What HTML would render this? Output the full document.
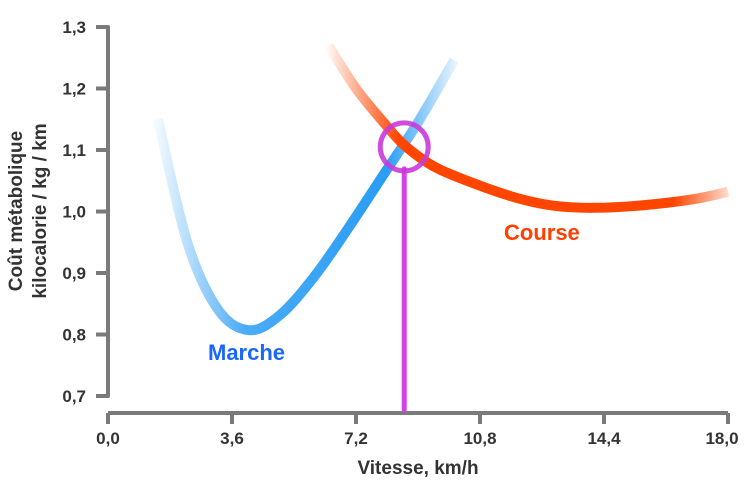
<!DOCTYPE html>
<html><head><meta charset="utf-8"><style>
body{margin:0;background:#fff}
svg{display:block;font-family:"Liberation Sans",sans-serif}
</style></head><body>
<svg id="c" width="754" height="497" viewBox="0 0 754 497">
<defs>
<linearGradient id="gm" gradientUnits="userSpaceOnUse" x1="150" y1="0" x2="465" y2="0">
<stop offset="0" stop-color="#2a9df4" stop-opacity="0"/>
<stop offset="0.3" stop-color="#2a9df4" stop-opacity="0.85"/>
<stop offset="0.75" stop-color="#2a9df4" stop-opacity="1"/>
<stop offset="1" stop-color="#2a9df4" stop-opacity="0"/>
</linearGradient>
<linearGradient id="gc" gradientUnits="userSpaceOnUse" x1="325" y1="0" x2="735" y2="0">
<stop offset="0" stop-color="#ff4500" stop-opacity="0"/>
<stop offset="0.18" stop-color="#ff4500" stop-opacity="1"/>
<stop offset="0.85" stop-color="#ff4500" stop-opacity="1"/>
<stop offset="1" stop-color="#ff4500" stop-opacity="0.1"/>
</linearGradient>
</defs>
<g id="axes"></g>
<g id="series"></g>
</svg>
<script>
const xTicks=[0,3.6,7.2,10.8,14.4,18];
const xTickLabels=["0,0","3,6","7,2","10,8","14,4","18,0"];
const yTicks=[0.7,0.8,0.9,1.0,1.1,1.2,1.3];
const yTickLabels=["0,7","0,8","0,9","1,0","1,1","1,2","1,3"];
const marcheX=[1.45,2.3,3.2,4.1,5,6,7,8,9,10.05];
const marcheY=[1.15,0.95,0.84,0.807,0.832,0.895,0.975,1.06,1.145,1.246];
const courseX=[6.4,7.2,8,8.6,9.5,10.8,12,13,14.1,15.5,17,18];
const courseY=[1.27,1.2,1.145,1.108,1.072,1.042,1.02,1.009,1.006,1.01,1.02,1.032];
const crossX=[8.6], crossY=[1.105];

const NS="http://www.w3.org/2000/svg";
const sx=v=>108+v*(728-108)/18;
const sy=v=>27+(1.3-v)*615;
function mk(tag,attrs,parent,text){const e=document.createElementNS(NS,tag);for(const k in attrs)e.setAttribute(k,attrs[k]);if(text!=null)e.textContent=text;parent.appendChild(e);return e;}
const ax=document.getElementById('axes'), sr=document.getElementById('series');
const grey="#7a7a7a";
let e=mk('path',{d:`M96 ${sy(1.3)} H108 V${sy(0.7)} H96`,fill:'none',stroke:grey,'stroke-width':4,'stroke-linejoin':'round'},ax);


yTicks.forEach((t,i)=>{
 const l=mk('line',{x1:96,x2:108,y1:sy(t),y2:sy(t),stroke:grey,'stroke-width':4},ax);
 
 
 const tx=mk('text',{x:86,y:sy(t)+6,'text-anchor':'end','font-size':17,'font-weight':'bold',fill:'#333'},ax,yTickLabels[i]);
 
 
});
e=mk('line',{x1:sx(0),x2:sx(18),y1:413,y2:413,stroke:grey,'stroke-width':4},ax);


xTicks.forEach((t,i)=>{
 const l=mk('line',{x1:sx(t),x2:sx(t),y1:413,y2:424,stroke:grey,'stroke-width':4},ax);
 
 
 const tx=mk('text',{x:sx(t)-(i==5?6:0),y:444,'text-anchor':'middle','font-size':17,'font-weight':'bold',fill:'#333'},ax,xTickLabels[i]);
 
 
});
e=mk('text',{x:418,y:474,'text-anchor':'middle','font-size':19,'font-weight':'bold',fill:'#333'},ax,'Vitesse, km/h');


e=mk('text',{transform:'translate(22,211) rotate(-90)','text-anchor':'middle','font-size':19,'font-weight':'bold',fill:'#333'},ax);


mk('tspan',{x:0,y:0},e,'Coût métabolique');
mk('tspan',{x:0,y:24},e,'kilocalorie / kg / km');

function smooth(xs,ys){
 const p=xs.map((x,i)=>[sx(x),sy(ys[i])]);
 let d=`M${p[0][0]} ${p[0][1]}`;
 for(let i=0;i<p.length-1;i++){
  const p0=p[Math.max(i-1,0)],p1=p[i],p2=p[i+1],p3=p[Math.min(i+2,p.length-1)];
  d+=` C${p1[0]+(p2[0]-p0[0])/6} ${p1[1]+(p2[1]-p0[1])/6} ${p2[0]-(p3[0]-p1[0])/6} ${p2[1]-(p3[1]-p1[1])/6} ${p2[0]} ${p2[1]}`;
 }
 return d;
}
e=mk('path',{d:smooth(marcheX,marcheY),fill:'none',stroke:'url(#gm)','stroke-width':10,'stroke-linecap':'butt'},sr);


e=mk('path',{d:smooth(courseX,courseY),fill:'none',stroke:'url(#gc)','stroke-width':10},sr);


const cx=sx(crossX[0]), cy=sy(crossY[0]);
e=mk('line',{x1:cx,x2:cx,y1:cy+22,y2:410,stroke:'#d63ee6','stroke-width':5,'stroke-linecap':'round'},sr);


e=mk('circle',{cx:cx,cy:cy,r:24,fill:'none',stroke:'#c93ad9','stroke-width':5,'stroke-opacity':0.9},sr);


e=mk('text',{x:208,y:360,'font-size':22,'font-weight':'bold',fill:'#1a66ff'},sr,'Marche');


e=mk('text',{x:504,y:240,'font-size':22,'font-weight':'bold',fill:'#ff4000'},sr,'Course');


</script>
</body></html>
